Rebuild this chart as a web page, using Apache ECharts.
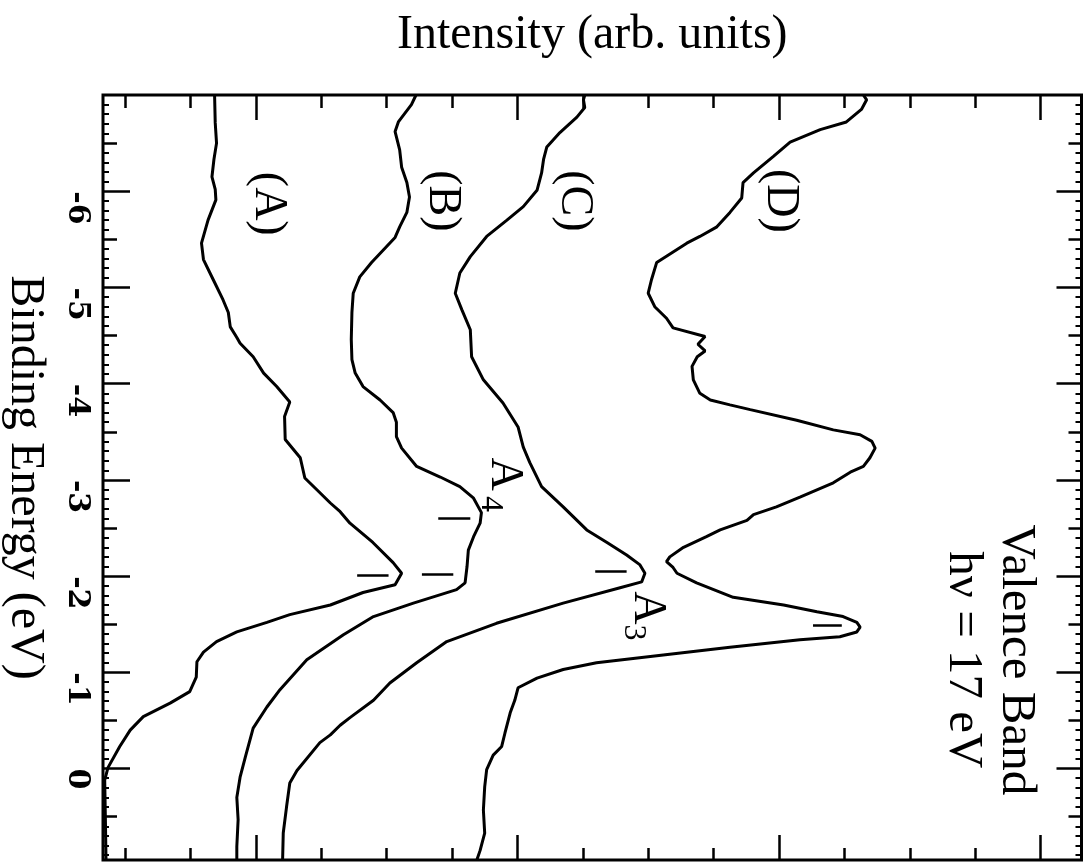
<!DOCTYPE html>
<html><head><meta charset="utf-8">
<script src="https://cdn.jsdelivr.net/npm/echarts@6/dist/echarts.min.js"></script>
<style>html,body{margin:0;padding:0;background:#fff}#c{width:1090px;height:863px}</style>
</head><body><div id="c"></div>
<script>
// ---- axis definitions ----
const energyMin = -7, energyMax = 0.95;
const intensityMin = -0.336, intensityMax = 14.625;
const energyTicks = [-6, -5, -4, -3, -2, -1, 0];
const energyTickLabels = ['-6', '-5', '-4', '-3', '-2', '-1', '0'];
const energyHalfTicks = [-6.5, -5.5, -4.5, -3.5, -2.5, -1.5, -0.5, 0.5];
const intensityTicks = [0, 1, 2, 3, 4, 5, 6, 7, 8, 9, 10, 11, 12, 13, 14];
const intensityLongTicks = [2, 6, 10, 14];

// ---- spectra: [intensity (arb.), binding energy (eV)] ----
const curveA = [[1.37,-7.00],[1.38,-6.71],[1.40,-6.50],[1.36,-6.33],[1.33,-6.15],[1.38,-6.02],[1.39,-5.91],[1.27,-5.70],[1.17,-5.46],[1.20,-5.29],[1.35,-5.08],[1.50,-4.87],[1.58,-4.74],[1.61,-4.59],[1.71,-4.48],[1.76,-4.42],[1.96,-4.28],[2.12,-4.11],[2.32,-3.97],[2.52,-3.81],[2.44,-3.66],[2.45,-3.42],[2.68,-3.23],[2.75,-3.02],[2.93,-2.90],[3.14,-2.76],[3.29,-2.67],[3.44,-2.55],[3.79,-2.35],[4.10,-2.14],[4.23,-2.03],[4.13,-1.91],[3.64,-1.83],[3.14,-1.70],[2.52,-1.60],[2.17,-1.52],[1.71,-1.42],[1.40,-1.32],[1.20,-1.21],[1.10,-1.11],[1.09,-0.95],[0.99,-0.80],[0.69,-0.68],[0.28,-0.54],[0.08,-0.40],[-0.08,-0.23],[-0.26,-0.01],[-0.31,0.12],[-0.30,0.50],[-0.29,0.95]];
const curveB = [[4.45,-7.00],[4.38,-6.90],[4.18,-6.72],[4.13,-6.62],[4.20,-6.43],[4.23,-6.25],[4.31,-6.09],[4.35,-5.94],[4.31,-5.78],[4.20,-5.63],[4.13,-5.52],[3.95,-5.39],[3.77,-5.26],[3.59,-5.11],[3.49,-4.94],[3.47,-4.74],[3.46,-4.46],[3.47,-4.25],[3.52,-4.11],[3.64,-3.97],[3.90,-3.83],[4.10,-3.70],[4.15,-3.60],[4.15,-3.45],[4.23,-3.33],[4.46,-3.14],[4.82,-3.03],[5.12,-2.93],[5.33,-2.81],[5.45,-2.66],[5.43,-2.55],[5.33,-2.41],[5.25,-2.27],[5.23,-2.10],[5.20,-1.93],[5.07,-1.86],[4.41,-1.72],[3.80,-1.58],[3.34,-1.39],[2.78,-1.13],[2.37,-0.82],[2.17,-0.64],[1.96,-0.42],[1.84,-0.12],[1.76,0.09],[1.71,0.30],[1.73,0.53],[1.71,0.81],[1.71,0.95]];
const curveC = [[7.03,-7.00],[7.01,-6.95],[7.03,-6.87],[6.91,-6.77],[6.65,-6.61],[6.45,-6.46],[6.40,-6.33],[6.37,-6.19],[6.30,-6.01],[6.09,-5.84],[5.84,-5.70],[5.53,-5.53],[5.28,-5.32],[5.12,-5.15],[5.05,-4.94],[5.15,-4.77],[5.28,-4.56],[5.30,-4.28],[5.48,-4.04],[5.78,-3.80],[6.01,-3.55],[6.09,-3.34],[6.19,-3.18],[6.37,-2.93],[6.70,-2.72],[7.06,-2.48],[7.37,-2.35],[7.67,-2.22],[7.87,-2.12],[7.95,-2.03],[7.90,-1.94],[7.57,-1.88],[6.70,-1.72],[5.68,-1.51],[4.92,-1.32],[4.46,-1.10],[4.05,-0.89],[3.80,-0.71],[3.44,-0.53],[3.29,-0.45],[3.14,-0.35],[2.98,-0.27],[2.63,0.02],[2.52,0.15],[2.47,0.40],[2.42,0.67],[2.41,0.95]];
const curveD = [[11.29,-7.00],[11.34,-6.95],[11.26,-6.85],[11.03,-6.72],[10.63,-6.64],[10.17,-6.51],[9.91,-6.36],[9.61,-6.19],[9.45,-6.09],[9.43,-5.93],[9.25,-5.78],[9.05,-5.63],[8.79,-5.53],[8.59,-5.46],[8.13,-5.26],[8.05,-5.08],[8.00,-4.94],[8.10,-4.80],[8.28,-4.68],[8.38,-4.58],[8.87,-4.49],[8.76,-4.41],[8.87,-4.34],[8.75,-4.28],[8.67,-4.18],[8.69,-4.04],[8.79,-3.90],[8.95,-3.83],[9.25,-3.78],[9.56,-3.73],[10.27,-3.62],[10.83,-3.52],[11.24,-3.47],[11.42,-3.40],[11.47,-3.33],[11.39,-3.23],[11.29,-3.14],[11.09,-3.08],[10.83,-2.97],[10.32,-2.82],[9.96,-2.72],[9.61,-2.64],[9.51,-2.58],[9.10,-2.48],[8.89,-2.41],[8.54,-2.30],[8.33,-2.20],[8.28,-2.15],[8.38,-2.09],[8.44,-2.03],[8.74,-1.93],[9.30,-1.78],[10.07,-1.70],[10.58,-1.63],[10.98,-1.58],[11.19,-1.52],[11.24,-1.47],[11.19,-1.42],[10.93,-1.37],[10.32,-1.34],[9.25,-1.26],[8.23,-1.18],[7.21,-1.10],[6.70,-1.03],[6.30,-0.94],[6.01,-0.84],[5.96,-0.71],[5.89,-0.58],[5.81,-0.37],[5.76,-0.23],[5.63,-0.14],[5.53,0.01],[5.50,0.19],[5.48,0.43],[5.50,0.67],[5.43,0.85],[5.38,0.95]];

// peak position markers
const peakMarkEnergy = [-2.01, -2.02, -2.60, -2.05, -1.49];
const peakMarkFrom   = [3.55, 4.54, 4.79, 7.19, 10.52];
const peakMarkTo     = [4.03, 5.02, 5.28, 7.67, 10.96];

// text annotations
const curveNames = ['(A)', '(B)', '(C)', '(D)'];
const curveNamePos = [[2.19, -5.87], [4.85, -5.90], [6.86, -5.90], [10.02, -5.90]];
const noteLines = ['Valence Band', 'hν = 17 eV'];
const notePos = [[13.62, -1.13], [12.81, -1.13]];
const peakNames = [['A', '4'], ['A', '3']];
const peakNamePos = [[5.80, -3.06], [7.99, -1.67]];
const peakSubPos = [[5.58, -2.75], [7.78, -1.415]];

const serif = "'Liberation Serif','Times New Roman',serif";
const energyMinorTicks = [];
for (let i = -69; i <= 9; i++) { if (i % 5 !== 0) energyMinorTicks.push(i / 10); }

function mkX(pos, ticks, len) {
  return { type: 'value', position: pos, min: intensityMin, max: intensityMax,
    axisLine: { show: false, onZero: false },
    axisTick: { show: true, inside: true, length: len, customValues: ticks, lineStyle: { color: '#000', width: 2.5 } },
    axisLabel: { show: false }, splitLine: { show: false } };
}
function mkY(pos, ticks, len, w) {
  return { type: 'value', position: pos, inverse: true, min: energyMin, max: energyMax,
    axisLine: { show: false, onZero: false },
    axisTick: { show: true, inside: true, length: len, customValues: ticks, lineStyle: { color: '#000', width: w } },
    axisLabel: { show: false }, splitLine: { show: false } };
}

const chart = echarts.init(document.getElementById('c'), null, { renderer: 'canvas' });
const xTopLong = mkX('top', intensityLongTicks, 25);
Object.assign(xTopLong, { name: 'Intensity (arb. units)', nameLocation: 'middle', nameGap: 36,
  nameTextStyle: { fontFamily: serif, fontSize: 48, color: '#000' } });
const yLeftMajor = mkY('left', energyTicks, 27, 2.5);
Object.assign(yLeftMajor, {
  axisLabel: { show: true, customValues: energyTicks, rotate: -90, align: 'left', verticalAlign: 'top', margin: 11,
    fontFamily: 'DejaVu Serif', fontWeight: 'bold', fontSize: 30, color: '#000',
    formatter: (v) => energyTickLabels[energyTicks.indexOf(Math.round(v))] },
  name: 'Binding Energy (eV)', nameLocation: 'middle', nameRotate: -90, nameGap: 54, nameMoveOverlap: false,
  nameTextStyle: { fontFamily: serif, fontSize: 48, color: '#000' } });

const option = {
  animation: false,
  backgroundColor: '#fff',
  grid: { left: 103, top: 95, right: 8.5, bottom: 3, show: true, borderColor: '#000', borderWidth: 3,
    containLabel: false, outerBoundsMode: 'none' },
  xAxis: [mkX('bottom', intensityTicks, 12), mkX('bottom', intensityLongTicks, 25), mkX('top', intensityTicks, 13), xTopLong],
  yAxis: [yLeftMajor, mkY('left', energyHalfTicks, 14, 2.5), mkY('left', energyMinorTicks, 6, 2),
          mkY('right', energyTicks, 25, 2.5), mkY('right', energyHalfTicks, 13, 2.5), mkY('right', energyMinorTicks, 6, 2)],
  series: [curveA, curveB, curveC, curveD].map((d, i) => ({
    type: 'line', name: curveNames[i], data: d, symbol: 'none', silent: true,
    xAxisIndex: 0, yAxisIndex: 0, lineStyle: { color: '#000', width: 3 } }))
    .concat([{ type: 'lines', coordinateSystem: 'cartesian2d', xAxisIndex: 0, yAxisIndex: 0, silent: true,
      lineStyle: { color: '#000', width: 2.5, opacity: 1 },
      data: peakMarkEnergy.map((e, i) => ({ coords: [[peakMarkFrom[i], e], [peakMarkTo[i], e]] })) }])
};
chart.setOption(option);

const toPx = (p) => chart.convertToPixel({ gridIndex: 0 }, p);
function rotText(p, text, size) {
  const q = toPx(p);
  return { type: 'text', x: q[0], y: q[1], rotation: -Math.PI / 2, silent: true,
    style: { text: text, fontFamily: serif, fontSize: size, fill: '#000', align: 'center', verticalAlign: 'middle' } };
}
const graphics = [];
curveNames.forEach((t, i) => graphics.push(rotText(curveNamePos[i], t, 46)));
noteLines.forEach((t, i) => graphics.push(rotText(notePos[i], t, 49)));
peakNames.forEach((t, i) => {
  graphics.push(rotText(peakNamePos[i], t[0], 46));
  graphics.push(rotText(peakSubPos[i], t[1], 32));
});
chart.setOption({ graphic: graphics });
</script></body></html>
